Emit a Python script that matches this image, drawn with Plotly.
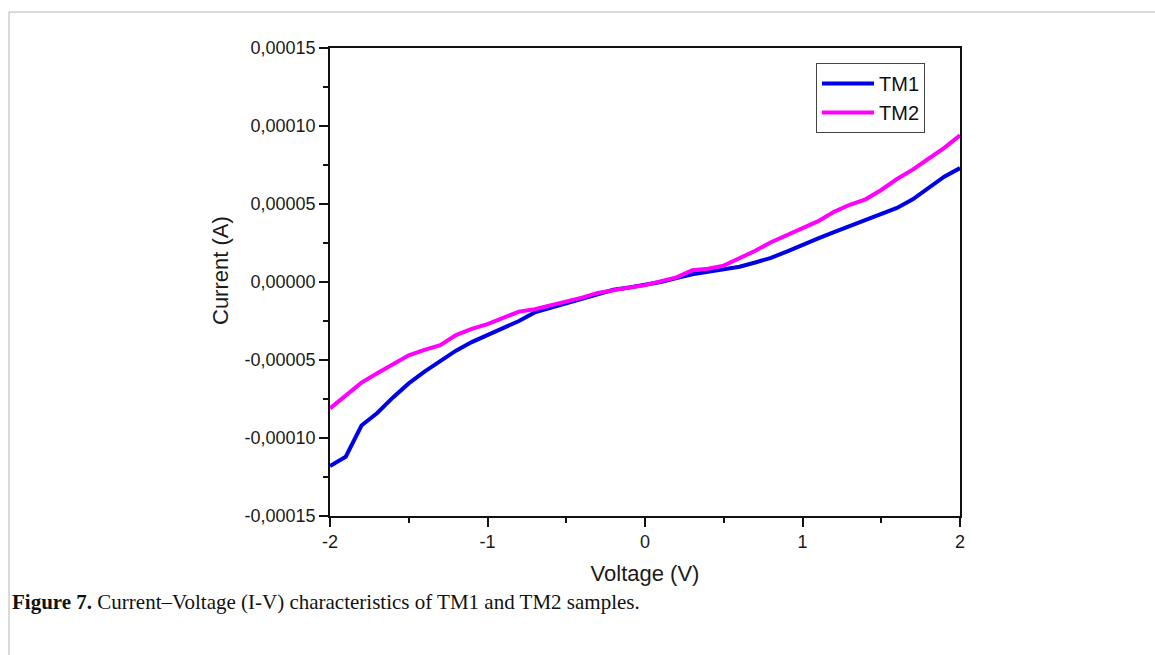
import plotly.graph_objects as go

# I-V sweep data (voltage in V, current in A)
voltage = [-2.0, -1.9, -1.8, -1.7, -1.6, -1.5, -1.4, -1.3, -1.2, -1.1, -1.0,
           -0.9, -0.8, -0.7, -0.6, -0.5, -0.4, -0.3, -0.2, -0.1, 0.0,
           0.1, 0.2, 0.3, 0.4, 0.5, 0.6, 0.7, 0.8, 0.9, 1.0,
           1.1, 1.2, 1.3, 1.4, 1.5, 1.6, 1.7, 1.8, 1.9, 2.0]

tm1_current_e5 = [-11.8, -11.2, -9.2, -8.4, -7.4, -6.5, -5.75, -5.05, -4.4, -3.85, -3.4,
                  -2.9, -2.5, -1.95, -1.65, -1.35, -1.05, -0.75, -0.5, -0.35, -0.2,
                  0.0, 0.25, 0.5, 0.65, 0.8, 0.98, 1.25, 1.55, 1.95, 2.4,
                  2.8, 3.2, 3.6, 3.95, 4.35, 4.75, 5.3, 6.05, 6.75, 7.3]

tm2_current_e5 = [-8.1, -7.25, -6.45, -5.85, -5.3, -4.7, -4.35, -4.05, -3.4, -3.0, -2.7,
                  -2.3, -1.9, -1.75, -1.5, -1.3, -1.0, -0.7, -0.5, -0.35, -0.2,
                  0.05, 0.3, 0.75, 0.85, 1.05, 1.5, 2.0, 2.55, 3.0, 3.4,
                  3.9, 4.5, 4.95, 5.3, 5.9, 6.6, 7.2, 7.9, 8.6, 9.4]

tm1_current = [v * 1e-5 for v in tm1_current_e5]
tm2_current = [v * 1e-5 for v in tm2_current_e5]

x_ticks = [-2, -1, 0, 1, 2]
x_ticktext = ["-2", "-1", "0", "1", "2"]
y_ticks = [-0.00015, -0.00010, -0.00005, 0.0, 0.00005, 0.00010, 0.00015]
y_ticktext = ["-0,00015", "-0,00010", "-0,00005", "0,00000", "0,00005", "0,00010", "0,00015"]

W, H = 1155, 655
L, R, T, B = 330, 195, 48, 139
pw, ph = W - L - R, H - T - B


def px_x(p):
    return (p - L) / pw


def px_y(p):
    return (H - B - p) / ph


fig = go.Figure()
fig.add_trace(go.Scatter(x=voltage, y=tm1_current, mode="lines", name="TM1",
                         line=dict(color="#0000e6", width=4)))
fig.add_trace(go.Scatter(x=voltage, y=tm2_current, mode="lines", name="TM2",
                         line=dict(color="#ff00ff", width=4)))

sans = "Liberation Sans, Arial, sans-serif"
axis_font = dict(family=sans, size=18, color="#1a1a1a")
title_font = dict(family=sans, size=22, color="#1a1a1a")

fig.update_xaxes(
    range=[-2, 2], tickvals=x_ticks, ticktext=x_ticktext,
    showline=True, linecolor="#111", linewidth=1.6, mirror=True,
    ticks="outside", ticklen=9, tickwidth=1.6, tickcolor="#111",
    minor=dict(dtick=0.5, ticks="outside", ticklen=5, tickwidth=1.6, tickcolor="#111", showgrid=False),
    showgrid=False, zeroline=False, tickfont=axis_font,
    title=dict(text="Voltage (V)", font=title_font, standoff=14),
)
fig.update_yaxes(
    range=[-0.00015, 0.00015], tickvals=y_ticks, ticktext=y_ticktext,
    showline=True, linecolor="#111", linewidth=1.6, mirror=True,
    ticks="outside", ticklen=9, tickwidth=1.6, tickcolor="#111",
    minor=dict(tick0=0, dtick=0.000025, ticks="outside", ticklen=5, tickwidth=1.6, tickcolor="#111", showgrid=False),
    showgrid=False, zeroline=False, tickfont=axis_font,
)

# y-axis title, placed a little above the axis centre
fig.add_annotation(
    xref="paper", yref="paper", x=px_x(220), y=px_y(271), xanchor="center", yanchor="middle",
    text="Current (A)", textangle=-90, showarrow=False, font=title_font,
)

# page frame lines (top and left)
fig.add_shape(type="line", xref="paper", yref="paper",
              x0=px_x(9), x1=px_x(W + 5), y0=px_y(12), y1=px_y(12),
              line=dict(color="#b4b4b4", width=1))
fig.add_shape(type="line", xref="paper", yref="paper",
              x0=px_x(9), x1=px_x(9), y0=px_y(12), y1=px_y(H + 5),
              line=dict(color="#b4b4b4", width=1))

fig.add_annotation(
    xref="paper", yref="paper", x=px_x(10), y=px_y(602), xanchor="left", yanchor="middle",
    text="<b>Figure 7.</b> Current–Voltage (I-V) characteristics of TM1 and TM2 samples.",
    showarrow=False, font=dict(family="Liberation Serif, Times New Roman, serif", size=21, color="#111"),
)

fig.update_layout(
    width=W, height=H,
    margin=dict(l=L, r=R, t=T, b=B),
    paper_bgcolor="white", plot_bgcolor="white",
    legend=dict(x=px_x(816), y=px_y(63), xanchor="left", yanchor="top",
                bordercolor="#444", borderwidth=1, bgcolor="white",
                font=dict(family=sans, size=20, color="#111"),
                tracegroupgap=0, itemwidth=52),
    showlegend=True,
)

fig.write_html("out.html")
